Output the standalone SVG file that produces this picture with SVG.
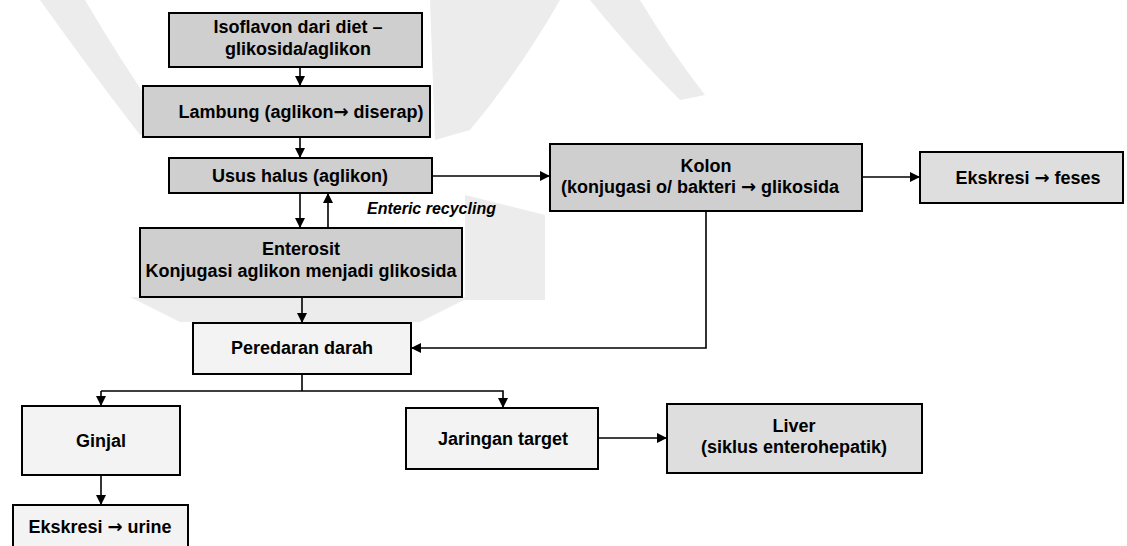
<svg xmlns="http://www.w3.org/2000/svg" width="1127" height="546" viewBox="0 0 1127 546">
  <defs>
    <marker id="ah" viewBox="0 0 10 10" refX="10" refY="5" markerWidth="10" markerHeight="10" markerUnits="userSpaceOnUse" orient="auto">
      <path d="M0,0 L10,5 L0,10 Z" fill="#000"/>
    </marker>
    <style>
      .box { stroke: #000; stroke-width: 2; }
      .dense { fill: #cfcfcf; }
      .mid { fill: #dedede; }
      .light { fill: #f3f3f3; }
      .wm { fill: #ececec; }
      .t { font-family: "Liberation Sans", Arial, sans-serif; font-size: 18px; font-weight: bold; fill: #000; text-anchor: middle; }
      .ar { font-family: "DejaVu Sans", sans-serif; font-weight: bold; }
      .it { font-family: "Liberation Sans", Arial, sans-serif; font-size: 16px; font-weight: bold; font-style: italic; fill: #000; }
      .c { fill: none; stroke: #000; stroke-width: 1.6; }
    </style>
  </defs>
  <rect width="1127" height="546" fill="#fff"/>

  <g id="watermark">
    <path class="wm" d="M40,0 L85,0 Q120,60 165,125 L140,135 Q90,70 40,0 Z"/>
    <path class="wm" d="M430,0 L560,0 Q520,70 470,130 L435,140 Z"/>
    <path class="wm" d="M590,0 L640,0 Q670,50 705,95 L680,100 Q630,50 590,0 Z"/>
    <path class="wm" d="M465,195 L545,215 L545,300 L465,300 Z"/>
    <path class="wm" d="M130,297 L470,297 L420,322 L180,322 Z"/>
  </g>

  <g id="connectors">
    <line class="c" x1="300" y1="67" x2="300" y2="86" marker-end="url(#ah)"/>
    <line class="c" x1="300" y1="137" x2="300" y2="158" marker-end="url(#ah)"/>
    <line class="c" x1="300" y1="193" x2="300" y2="228" marker-end="url(#ah)"/>
    <line class="c" x1="328" y1="228" x2="328" y2="193" marker-end="url(#ah)"/>
    <line class="c" x1="432" y1="176" x2="550" y2="176" marker-end="url(#ah)"/>
    <line class="c" x1="862" y1="177" x2="920" y2="177" marker-end="url(#ah)"/>
    <line class="c" x1="302" y1="297" x2="302" y2="323" marker-end="url(#ah)"/>
    <polyline class="c" points="706,211 706,348 411,348" marker-end="url(#ah)"/>
    <line class="c" x1="302" y1="374" x2="302" y2="391"/>
    <polyline class="c" points="101,391 503,391 503,408" marker-end="url(#ah)"/>
    <line class="c" x1="101" y1="391" x2="101" y2="406" marker-end="url(#ah)"/>
    <line class="c" x1="101" y1="475" x2="101" y2="505" marker-end="url(#ah)"/>
    <line class="c" x1="598" y1="438" x2="667" y2="438" marker-end="url(#ah)"/>
    <text class="it" x="367" y="214">Enteric recycling</text>
  </g>

  <g id="isoflavon">
    <rect class="box dense" x="169" y="13" width="253" height="54"/>
    <text class="t" x="298" y="33">Isoflavon dari diet –</text>
    <text class="t" x="298" y="55">glikosida/aglikon</text>
  </g>
  <g id="lambung">
    <rect class="box dense" x="143" y="86" width="287" height="51"/>
    <text class="t" x="301" y="118">Lambung (aglikon<tspan class="ar">→</tspan> diserap)</text>
  </g>
  <g id="usus">
    <rect class="box dense" x="169" y="158" width="263" height="35"/>
    <text class="t" x="300" y="182">Usus halus (aglikon)</text>
  </g>
  <g id="enterosit">
    <rect class="box dense" x="140" y="228" width="322" height="69"/>
    <text class="t" x="301" y="255">Enterosit</text>
    <text class="t" x="301" y="277">Konjugasi aglikon menjadi glikosida</text>
  </g>
  <g id="kolon">
    <rect class="box dense" x="550" y="144" width="312" height="67"/>
    <text class="t" x="706" y="172">Kolon</text>
    <text class="t" x="700" y="193">(konjugasi o/ bakteri <tspan class="ar">→</tspan> glikosida</text>
  </g>
  <g id="feses">
    <rect class="box mid" x="920" y="152" width="203" height="51"/>
    <text class="t" x="1028" y="184">Ekskresi <tspan class="ar">→</tspan> feses</text>
  </g>
  <g id="peredaran">
    <rect class="box light" x="193" y="323" width="218" height="51"/>
    <text class="t" x="302" y="354">Peredaran darah</text>
  </g>
  <g id="ginjal">
    <rect class="box light" x="22" y="406" width="158" height="69"/>
    <text class="t" x="101" y="447">Ginjal</text>
  </g>
  <g id="urine">
    <rect class="box light" x="13" y="505" width="175" height="50"/>
    <text class="t" x="100" y="533">Ekskresi <tspan class="ar">→</tspan> urine</text>
  </g>
  <g id="jaringan">
    <rect class="box light" x="406" y="408" width="192" height="61"/>
    <text class="t" x="503" y="445">Jaringan target</text>
  </g>
  <g id="liver">
    <rect class="box mid" x="667" y="404" width="255" height="69"/>
    <text class="t" x="794" y="432">Liver</text>
    <text class="t" x="794" y="453">(siklus enterohepatik)</text>
  </g>
</svg>
